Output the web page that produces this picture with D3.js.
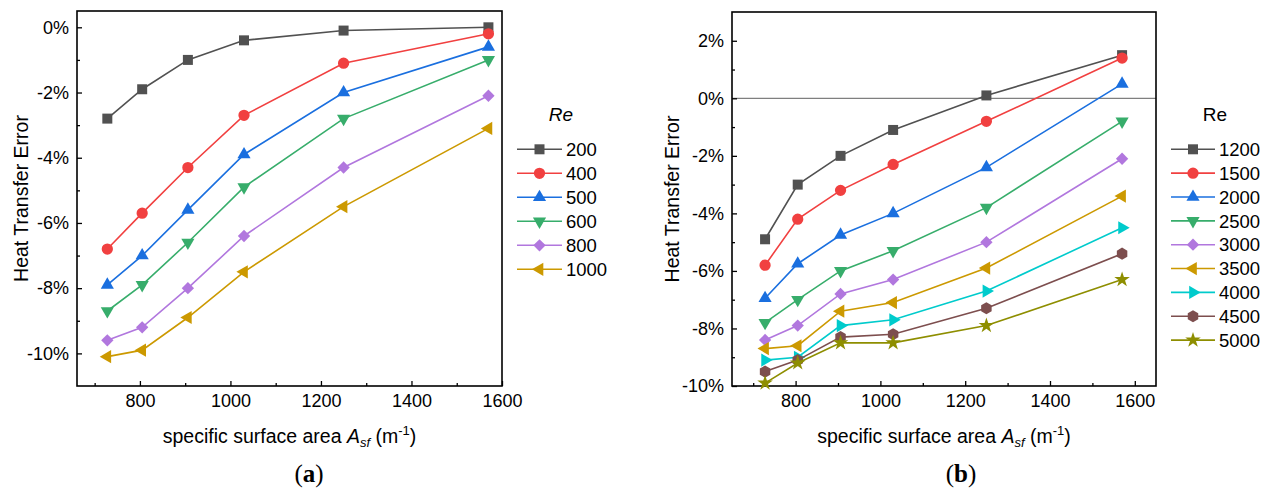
<!DOCTYPE html>
<html>
<head>
<meta charset="utf-8">
<script src="https://cdn.jsdelivr.net/npm/d3@7"></script>
<style>
  html, body { margin: 0; padding: 0; background: #fff; }
  svg { display: block; }
  text { font-family: "Liberation Sans", Arial, sans-serif; fill: #000; }
</style>
</head>
<body>
<svg id="chart" width="1270" height="490"></svg>
<script>
// ---------------- data ----------------
const surfaceArea = [728, 805, 906, 1030, 1250, 1570];

// panel (a)
const reLabelsA = ["200", "400", "500", "600", "800", "1000"];
const re200  = [-2.8, -1.9, -1.0, -0.4, -0.1, 0.0];
const re400  = [-6.8, -5.7, -4.3, -2.7, -1.1, -0.2];
const re500  = [-7.9, -7.0, -5.6, -3.9, -2.0, -0.6];
const re600  = [-8.7, -7.9, -6.6, -4.9, -2.8, -1.0];
const re800  = [-9.6, -9.2, -8.0, -6.4, -4.3, -2.1];
const re1000 = [-10.1, -9.9, -8.9, -7.5, -5.5, -3.1];

// panel (b)
const reLabelsB = ["1200", "1500", "2000", "2500", "3000", "3500", "4000", "4500", "5000"];
const re1200 = [-4.9, -3.0, -2.0, -1.1, 0.1, 1.5];
const re1500 = [-5.8, -4.2, -3.2, -2.3, -0.8, 1.4];
const re2000 = [-6.95, -5.75, -4.75, -4.0, -2.4, 0.5];
const re2500 = [-7.8, -7.0, -6.0, -5.3, -3.8, -0.8];
const re3000 = [-8.4, -7.9, -6.8, -6.3, -5.0, -2.1];
const re3500 = [-8.7, -8.6, -7.4, -7.1, -5.9, -3.4];
const re4000 = [-9.1, -9.0, -7.9, -7.7, -6.7, -4.5];
const re4500 = [-9.5, -9.1, -8.3, -8.2, -7.3, -5.4];
const re5000 = [-9.9, -9.2, -8.5, -8.5, -7.9, -6.3];

// ticks
const xTicks = [800, 1000, 1200, 1400, 1600];
const xMinorTicks = [700, 900, 1100, 1300, 1500];
const yTicksA = [0, -2, -4, -6, -8, -10];
const yMinorA = [-1, -3, -5, -7, -9];
const yTicksB = [2, 0, -2, -4, -6, -8, -10];
const yMinorB = [1, -1, -3, -5, -7, -9];

// ---------------- styles ----------------
const colors = ["#515151", "#F14040", "#1A6FDF", "#37AD6B", "#B177DE", "#CC9900", "#00CBCC", "#7D4E4E", "#8E8E00"];

function triangle(angle) {
  return { draw(ctx, size) {
    const r = Math.sqrt(size / (3 * Math.sqrt(3) / 4));
    for (let i = 0; i < 3; i++) {
      const a = angle + i * 2 * Math.PI / 3;
      const px = r * Math.cos(a), py = r * Math.sin(a);
      if (i === 0) ctx.moveTo(px, py); else ctx.lineTo(px, py);
    }
    ctx.closePath();
  }};
}
const diamond = { draw(ctx, size) {
  const h = Math.sqrt(size / 2);
  ctx.moveTo(0, -h); ctx.lineTo(h, 0); ctx.lineTo(0, h); ctx.lineTo(-h, 0); ctx.closePath();
}};
const hexagon = { draw(ctx, size) {
  const r = Math.sqrt(size / (3 * Math.sqrt(3) / 2));
  for (let i = 0; i < 6; i++) {
    const a = -Math.PI / 2 + i * Math.PI / 3;
    const px = r * Math.cos(a), py = r * Math.sin(a);
    if (i === 0) ctx.moveTo(px, py); else ctx.lineTo(px, py);
  }
  ctx.closePath();
}};
const shapes = [
  [d3.symbolSquare, 100],
  [d3.symbolCircle, 100],
  [triangle(-Math.PI / 2), 75],
  [triangle(Math.PI / 2), 75],
  [diamond, 76],
  [triangle(Math.PI), 75],
  [triangle(0), 75],
  [hexagon, 95],
  [d3.symbolStar, 75]
];

const svg = d3.select("#chart");
svg.append("rect").attr("width", 1270).attr("height", 490).attr("fill", "#fff");

function drawPanel(cfg) {
  const g = svg.append("g");
  const x = d3.scaleLinear().domain(cfg.xDomain).range(cfg.xRange);
  const y = d3.scaleLinear().domain(cfg.yDomain).range(cfg.yRange);
  const [x0, x1] = cfg.xRange, [yb, yt] = cfg.yRange;

  if (cfg.zeroLine) {
    g.append("line").attr("x1", x0).attr("x2", x1).attr("y1", y(0)).attr("y2", y(0))
      .attr("stroke", "#7f7f7f").attr("stroke-width", 1.2);
  }

  // axes
  const xAxis = g.append("g").attr("transform", `translate(0,${yb})`)
    .call(d3.axisBottom(x).tickValues(xTicks).tickSizeInner(-5).tickSizeOuter(0).tickPadding(8).tickFormat(d3.format("d")));
  const xMinor = g.append("g").attr("transform", `translate(0,${yb})`)
    .call(d3.axisBottom(x).tickValues(xMinorTicks).tickSizeInner(-3).tickSizeOuter(0).tickFormat(""));
  const yAxis = g.append("g").attr("transform", `translate(${x0},0)`)
    .call(d3.axisLeft(y).tickValues(cfg.yTicks).tickSizeInner(-5).tickSizeOuter(0).tickPadding(8).tickFormat(d => d + "%"));
  const yMinor = g.append("g").attr("transform", `translate(${x0},0)`)
    .call(d3.axisLeft(y).tickValues(cfg.yMinor).tickSizeInner(-3).tickSizeOuter(0).tickFormat(""));
  [xAxis, xMinor, yAxis, yMinor].forEach(a => {
    a.select(".domain").remove();
    a.selectAll("line").attr("stroke", "#000").attr("stroke-width", 1.3);
    a.selectAll("text").style("font-family", '"Liberation Sans", Arial, sans-serif').style("font-size", "18px").attr("fill", "#000");
  });

  // frame
  g.append("rect").attr("x", x0).attr("y", yt).attr("width", x1 - x0).attr("height", yb - yt)
    .attr("fill", "none").attr("stroke", "#000").attr("stroke-width", 1.6);

  // series
  const line = d3.line().x(d => x(d[0])).y(d => y(d[1]));
  cfg.series.forEach((vals, i) => {
    const pts = surfaceArea.map((sx, k) => [sx, vals[k]]);
    g.append("path").attr("d", line(pts)).attr("fill", "none")
      .attr("stroke", colors[i]).attr("stroke-width", 1.6);
    const sym = d3.symbol().type(shapes[i][0]).size(shapes[i][1]);
    g.selectAll(null).data(pts).enter().append("path")
      .attr("d", sym).attr("transform", d => `translate(${x(d[0])},${y(d[1])})`)
      .attr("fill", colors[i]);
  });

  // legend
  const lg = g.append("g");
  lg.append("text").attr("x", cfg.legendTitleX).attr("y", 121).attr("text-anchor", "middle")
    .style("font-size", "19px").style("font-style", cfg.italicRe ? "italic" : "normal").text("Re");
  cfg.labels.forEach((lab, i) => {
    const ly = 149.3 + i * cfg.legendStep;
    lg.append("line").attr("x1", cfg.legendX0).attr("x2", cfg.legendX1).attr("y1", ly).attr("y2", ly)
      .attr("stroke", colors[i]).attr("stroke-width", 1.6);
    lg.append("path").attr("d", d3.symbol().type(shapes[i][0]).size(shapes[i][1]))
      .attr("transform", `translate(${(cfg.legendX0 + cfg.legendX1) / 2},${ly})`).attr("fill", colors[i]);
    lg.append("text").attr("x", cfg.legendX1 + 4).attr("y", ly).attr("dy", "0.36em")
      .style("font-size", "18.5px").text(lab);
  });

  // axis titles
  g.append("text").attr("transform", `translate(${cfg.yTitleX},${(yb + yt) / 2}) rotate(-90)`)
    .attr("text-anchor", "middle").attr("dy", "0.35em").style("font-size", "19.5px").text("Heat Transfer Error");
  const xt = g.append("text").attr("x", (x0 + x1) / 2).attr("y", 443).attr("text-anchor", "middle")
    .style("font-size", "19.5px");
  xt.append("tspan").text("specific surface area ");
  xt.append("tspan").style("font-style", "italic").text("A");
  xt.append("tspan").style("font-style", "italic").style("font-size", "13px").attr("dy", 4).text("sf");
  xt.append("tspan").attr("dy", -4).text(" (m");
  xt.append("tspan").style("font-size", "13px").attr("dy", -8).text("-1");
  xt.append("tspan").attr("dy", 8).text(")");

  // panel letter
  const pl = g.append("text").attr("x", cfg.letterX).attr("y", 482).attr("text-anchor", "middle")
    .style("font-family", '"Liberation Serif", "Times New Roman", serif').style("font-size", "25px");
  pl.append("tspan").text("(");
  pl.append("tspan").style("font-weight", "bold").text(cfg.letter);
  pl.append("tspan").text(")");
}

drawPanel({
  xDomain: [661, 1600], xRange: [77, 502],
  yDomain: [-11, 0.5], yRange: [386, 11],
  yTicks: yTicksA, yMinor: yMinorA,
  series: [re200, re400, re500, re600, re800, re1000],
  labels: reLabelsA, italicRe: true,
  legendTitleX: 561, legendX0: 517, legendX1: 562, legendStep: 24,
  yTitleX: 21, letterX: 309, letter: "a", zeroLine: false
});

drawPanel({
  xDomain: [650, 1650], xRange: [732, 1156],
  yDomain: [-10, 3], yRange: [386, 12],
  yTicks: yTicksB, yMinor: yMinorB,
  series: [re1200, re1500, re2000, re2500, re3000, re3500, re4000, re4500, re5000],
  labels: reLabelsB, italicRe: false,
  legendTitleX: 1215, legendX0: 1171, legendX1: 1215, legendStep: 23.85,
  yTitleX: 672, letterX: 961, letter: "b", zeroLine: true
});
</script>
</body>
</html>
